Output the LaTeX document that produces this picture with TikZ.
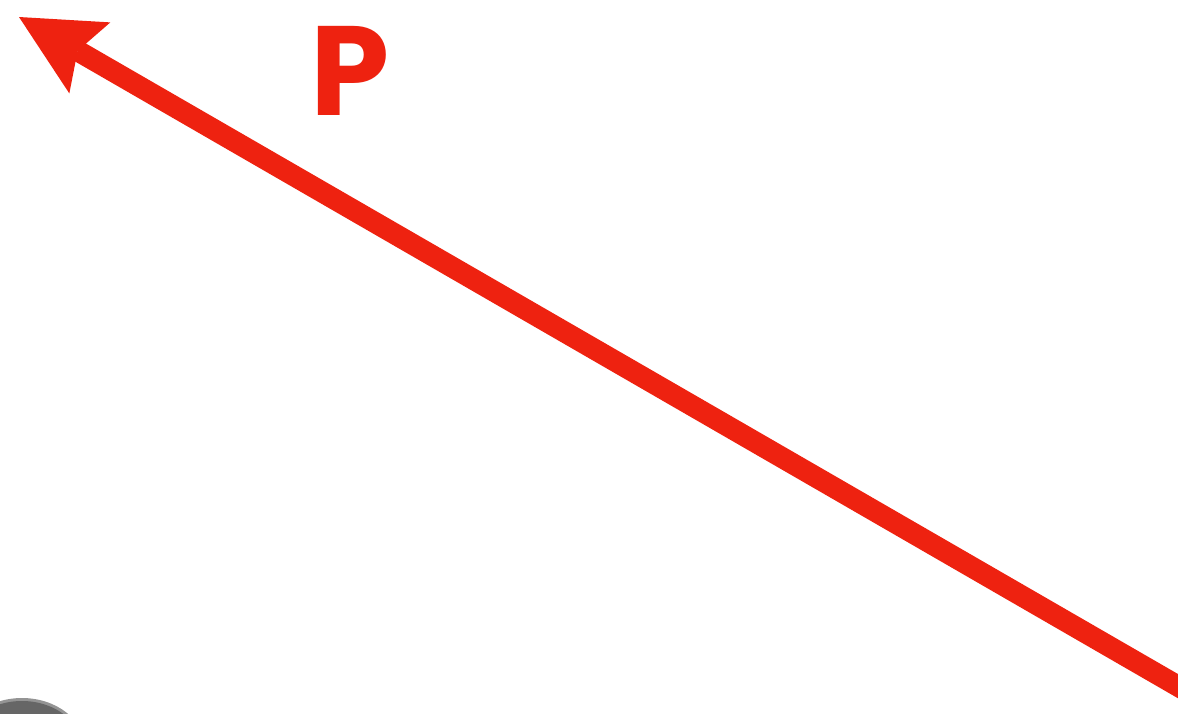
\documentclass[tikz,border=0pt]{standalone}
\usepackage{fontspec}
\usetikzlibrary{calc}
\newfontfamily\poppins{Poppins}[UprightFont=* Bold]
\definecolor{arrowred}{RGB}{238,34,16}
\definecolor{blobgray}{RGB}{102,102,102}
\begin{document}
\begin{tikzpicture}[x=1pt,y=-1pt,
  shaft/.style={draw=arrowred,line width=21pt},
  headfill/.style={fill=arrowred},
  lbl/.style={text=arrowred,inner sep=0pt,font=\poppins\fontsize{127}{127}\selectfont}]
\useasboundingbox (0,0) rectangle (1178,713);
\fill[white] (0,0) rectangle (1178,713);
\clip (0,0) rectangle (1178,713);
% gray blob
\fill[blobgray!70] (22,748) ellipse [x radius=63, y radius=50];
\fill[blobgray] (22,748) ellipse [x radius=60, y radius=47];
% arrow
\coordinate (tip) at (19,17);
\coordinate (notch) at ($(tip)+(30:67.7)$);
\coordinate (mid) at ($(tip)+(30:81.8)$);
\coordinate (w1) at ($(mid)+(-60:41)$);
\coordinate (w2) at ($(mid)+(120:41)$);
\coordinate (end) at ($(tip)+(30:1400)$);
\draw[shaft] (end) -- (notch);
\fill[headfill] (tip) -- (w1) -- (notch) -- (w2) -- cycle;
\node[lbl,anchor=base] (P) at (350,115) {P};
\end{tikzpicture}
\end{document}
